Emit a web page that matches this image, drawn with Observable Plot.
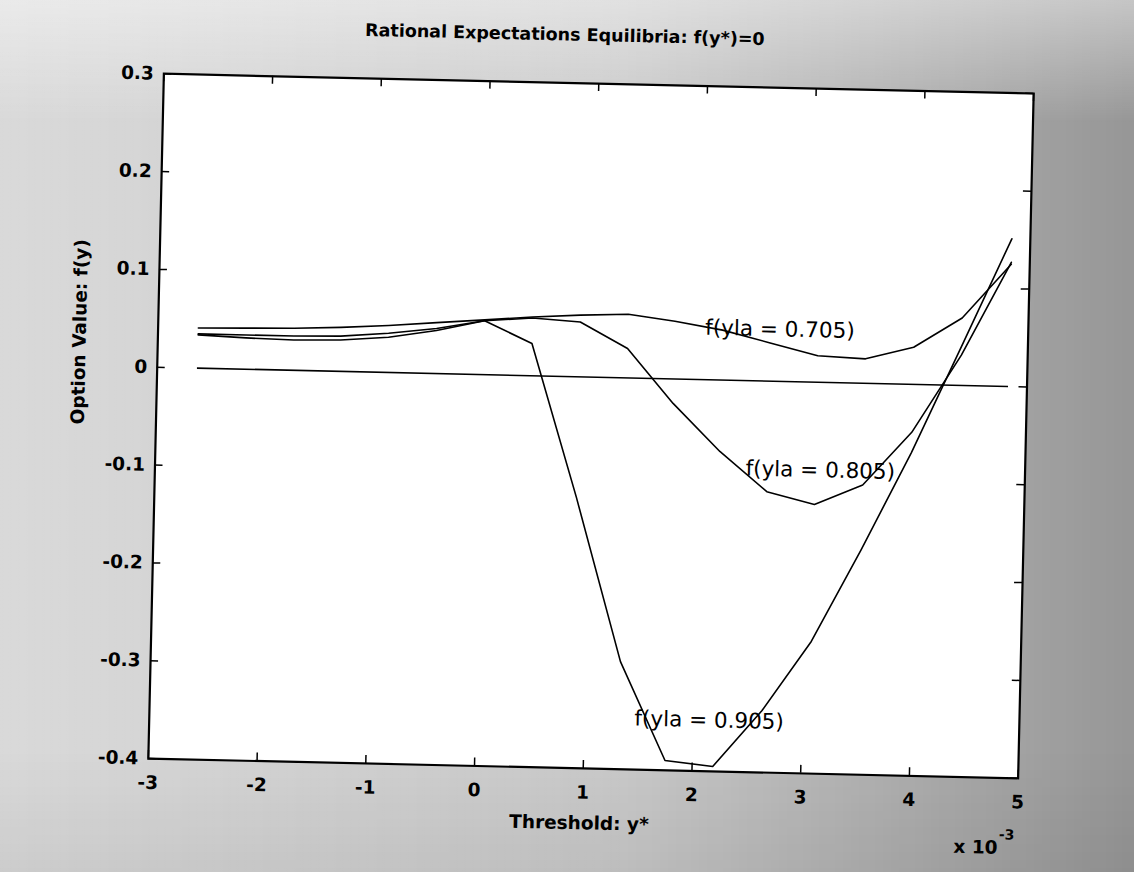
<!DOCTYPE html>
<html><head><meta charset="utf-8">
<script src="https://cdn.jsdelivr.net/npm/d3@7"></script>
<script src="https://cdn.jsdelivr.net/npm/@observablehq/plot@0.6"></script>
<style>
html,body{margin:0;padding:0;}
body{width:1134px;height:872px;overflow:hidden;
background:
 linear-gradient(to bottom, rgba(255,255,255,0.45) 0%, rgba(255,255,255,0) 14%, rgba(255,255,255,0) 86%, rgba(0,0,0,0.06) 100%),
 linear-gradient(to right, rgba(255,255,255,0.3) 0%, rgba(255,255,255,0) 55%, rgba(0,0,0,0.25) 100%),
 #c9c9c9;}
#chart{position:absolute;left:0;top:0;width:1134px;height:872px;transform-origin:590.5px 425.75px;transform:rotate(1.3deg);}
</style></head><body><div id="chart"></div>
<script>
// threshold y* (x 10^-3)
const threshold = [-2.63, -2.19, -1.75, -1.32, -0.88, -0.44, 0, 0.44, 0.88, 1.32, 1.75, 2.19, 2.63, 3.07, 3.51, 3.95, 4.39, 4.83];
// option value f(y) for each yla
const f705 = [0.041, 0.042, 0.043, 0.045, 0.048, 0.052, 0.056, 0.060, 0.063, 0.065, 0.059, 0.051, 0.039, 0.027, 0.025, 0.038, 0.069, 0.125];
const f805 = [0.035, 0.035, 0.035, 0.036, 0.040, 0.046, 0.055, 0.059, 0.056, 0.030, -0.025, -0.073, -0.113, -0.125, -0.104, -0.049, 0.031, 0.127];
const f905 = [0.034, 0.032, 0.031, 0.032, 0.036, 0.044, 0.055, 0.033, -0.123, -0.290, -0.390, -0.395, -0.337, -0.265, -0.170, -0.070, 0.040, 0.151];
const seriesNames = ["0.705", "0.805", "0.905"];
const labels = ["f(yla = 0.705)", "f(yla = 0.805)", "f(yla = 0.905)"];
const labelX = [2.03, 2.43, 1.46];
const labelY = [0.053, -0.090, -0.348];
const xTicks = [-3, -2, -1, 0, 1, 2, 3, 4, 5];
const xTickLabels = ["-3", "-2", "-1", "0", "1", "2", "3", "4", "5"];
const yTicks = [0.3, 0.2, 0.1, 0, -0.1, -0.2, -0.3, -0.4];
const yTickLabels = ["0.3", "0.2", "0.1", "0", "-0.1", "-0.2", "-0.3", "-0.4"];
const titleText = "Rational Expectations Equilibria: f(y*)=0";
const xLabel = "Threshold: y*";
const yLabel = "Option Value: f(y)";

const seriesVals = [f705, f805, f905];
const rows = [];
seriesVals.forEach((vals, s) => threshold.forEach((x, i) => rows.push({x, y: vals[i], s: seriesNames[s]})));
const notes = labels.map((t, i) => ({t, x: labelX[i], y: labelY[i]}));

const W = 1134, H = 872, mL = 155.5, mR = 108.5, mT = 83, mB = 104;
const fw = W - mL - mR, fh = H - mT - mB, tk = 8;

const plot = Plot.plot({
  width: W, height: H,
  marginLeft: mL, marginRight: mR, marginTop: mT, marginBottom: mB,
  style: {background: "transparent", fontFamily: "'DejaVu Sans'", fontSize: "18.5px", fontWeight: "bold", color: "black", overflow: "visible"},
  x: {domain: [-3, 5]},
  y: {domain: [-0.4, 0.3]},
  marks: [
    Plot.frame({fill: "white", stroke: null}),
    Plot.ruleY([0], {y: d => d, x1: () => threshold[0], x2: () => threshold[threshold.length - 1], stroke: "black", strokeWidth: 1.6}),
    Plot.line(rows, {x: "x", y: "y", z: "s", stroke: "black", strokeWidth: 1.6}),
    Plot.text(notes, {x: "x", y: "y", text: "t", textAnchor: "start", lineAnchor: "middle", fontSize: 21.5, fontWeight: "normal", fill: "black"}),
    Plot.tickX(xTicks, {x: d => d, insetTop: fh - tk, stroke: "black", strokeWidth: 1.5}),
    Plot.tickX(xTicks, {x: d => d, insetBottom: fh - tk, stroke: "black", strokeWidth: 1.5}),
    Plot.tickY(yTicks, {y: d => d, insetRight: fw - tk, stroke: "black", strokeWidth: 1.5}),
    Plot.tickY(yTicks, {y: d => d, insetLeft: fw - tk, stroke: "black", strokeWidth: 1.5}),
    Plot.frame({stroke: "black", strokeWidth: 2.2}),
    Plot.axisX({anchor: "bottom", ticks: xTicks, tickFormat: (d, i) => xTickLabels[i], tickSize: 0, tickPadding: 17, label: null, fill: "black"}),
    Plot.axisY({anchor: "left", ticks: yTicks, tickFormat: (d, i) => yTickLabels[i], tickSize: 0, tickPadding: 10, label: null, fill: "black"}),
    Plot.text([titleText], {frameAnchor: "top", dx: -35, dy: -48, lineAnchor: "middle", fontSize: 17.5, fill: "black"}),
    Plot.text([xLabel], {frameAnchor: "bottom", dx: -3, dy: 55, lineAnchor: "middle", fill: "black"}),
    Plot.text([yLabel], {frameAnchor: "left", dx: -78, dy: 10, rotate: -90, lineAnchor: "middle", fill: "black"}),
    Plot.text(["x 10"], {frameAnchor: "bottom-right", dx: -19, dy: 70, textAnchor: "end", lineAnchor: "middle", fill: "black"}),
    Plot.text(["-3"], {frameAnchor: "bottom-right", dx: -18, dy: 57, textAnchor: "start", lineAnchor: "middle", fontSize: 14, fill: "black"})
  ]
});
document.getElementById("chart").appendChild(plot);
</script></body></html>
